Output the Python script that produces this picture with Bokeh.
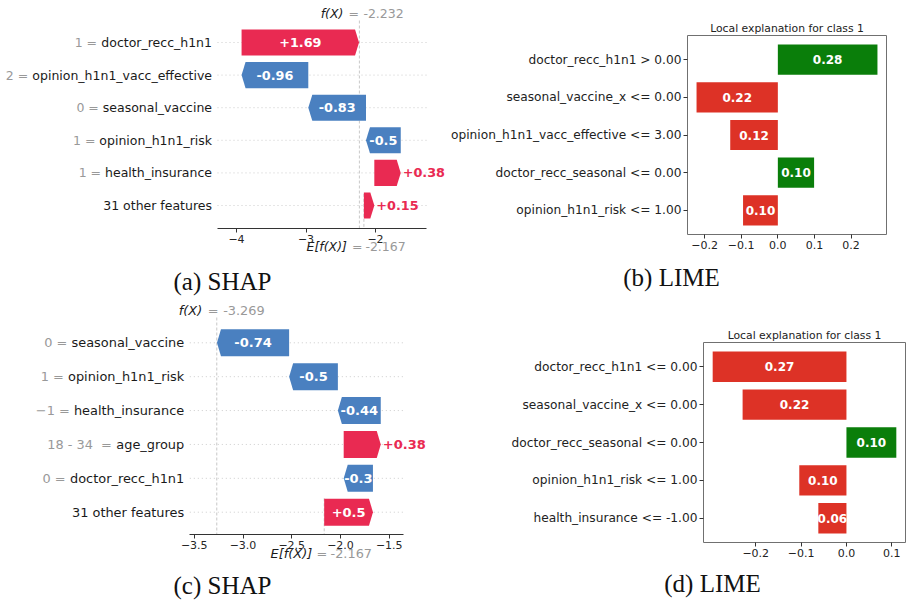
from bokeh.plotting import figure
from bokeh.models import Range1d, FixedTicker, Title
from bokeh.layouts import column, row
from bokeh.embed import file_html
from bokeh.resources import INLINE
from bokeh.core.properties import value

# ---------------- data ----------------
shap_a_features = ["doctor_recc_h1n1", "opinion_h1n1_vacc_effective", "seasonal_vaccine",
                   "opinion_h1n1_risk", "health_insurance", "31 other features"]
shap_a_feature_values = ["1", "2", "0", "1", "1", ""]
shap_a_contrib = [1.69, -0.96, -0.83, -0.5, 0.38, 0.15]
shap_a_labels = ["+1.69", "-0.96", "-0.83", "-0.5", "+0.38", "+0.15"]
shap_a_base = -2.167
shap_a_fx = -2.232
shap_a_ticks = [-4, -3, -2]
shap_a_tick_labels = ["\u22124", "\u22123", "\u22122"]

shap_c_features = ["seasonal_vaccine", "opinion_h1n1_risk", "health_insurance",
                   "age_group", "doctor_recc_h1n1", "31 other features"]
shap_c_feature_values = ["0", "1", "\u22121", "18 - 34\u00a0", "0", ""]
shap_c_contrib = [-0.74, -0.5, -0.44, 0.38, -0.3, 0.5]
shap_c_labels = ["-0.74", "-0.5", "-0.44", "+0.38", "-0.3", "+0.5"]
shap_c_base = -2.167
shap_c_fx = -3.269
shap_c_ticks = [-3.5, -3.0, -2.5, -2.0, -1.5]
shap_c_tick_labels = ["\u22123.5", "\u22123.0", "\u22122.5", "\u22122.0", "\u22121.5"]

lime_title = "Local explanation for class 1"
lime_b_features = ["doctor_recc_h1n1 > 0.00", "seasonal_vaccine_x <= 0.00",
                   "opinion_h1n1_vacc_effective <= 3.00", "doctor_recc_seasonal <= 0.00",
                   "opinion_h1n1_risk <= 1.00"]
lime_b_weights = [0.272, -0.222, -0.130, 0.099, -0.095]
lime_b_labels = ["0.28", "0.22", "0.12", "0.10", "0.10"]
lime_b_ticks = [-0.2, -0.1, 0.0, 0.1, 0.2]
lime_b_tick_labels = ["\u22120.2", "\u22120.1", "0.0", "0.1", "0.2"]

lime_d_features = ["doctor_recc_h1n1 <= 0.00", "seasonal_vaccine_x <= 0.00",
                   "doctor_recc_seasonal <= 0.00", "opinion_h1n1_risk <= 1.00",
                   "health_insurance <= -1.00"]
lime_d_weights = [-0.295, -0.229, 0.110, -0.104, -0.062]
lime_d_labels = ["0.27", "0.22", "0.10", "0.10", "0.06"]
lime_d_ticks = [-0.2, -0.1, 0.0, 0.1]
lime_d_tick_labels = ["\u22120.2", "\u22120.1", "0.0", "0.1"]

captions = ["(a) SHAP", "(b) LIME", "(c) SHAP", "(d) LIME"]

# ---------------- style ----------------
SANS = "DejaVu Sans"
SERIF = "Liberation Serif"
CAP_SIZE = 25
SHAP_RED = "#e92a52"
SHAP_BLUE = "#4a80c0"
LIME_GREEN = "#0a7e0a"
LIME_RED = "#dd3226"
GRAY = "#999999"
INK = "#1a1a1a"

_W = {' ': .318, '=': .838, '-': .361, '_': .5, '.': .318, '>': .838, '<': .838, '\u2212': .838,
      '\u00a0': .318, 'a': .613, 'b': .635, 'c': .55, 'd': .635, 'e': .615, 'f': .352, 'g': .635,
      'h': .634, 'i': .278, 'j': .278, 'k': .579, 'l': .278, 'm': .974, 'n': .634, 'o': .612,
      'p': .635, 'q': .635, 'r': .411, 's': .521, 't': .392, 'u': .634, 'v': .592, 'w': .818,
      'x': .592, 'y': .592, 'z': .525, '+': .838}
_WB = {'+': .838, '-': .415, '.': .38}
# Liberation Serif (Times metrics) advance widths
_WS = {'(': .333, ')': .333, ' ': .25, 'a': .444, 'b': .5, 'c': .444, 'd': .5, 'S': .556,
       'H': .722, 'A': .722, 'P': .556, 'L': .611, 'I': .333, 'M': .889, 'E': .611}


def text_w(s, size, bold=False):
    tot = 0.0
    for ch in s:
        if ch.isdigit():
            tot += .696 if bold else .636
        elif bold and ch in _WB:
            tot += _WB[ch]
        else:
            tot += _W.get(ch, .6)
    return tot * size


def serif_w(s, size):
    return sum(_WS.get(ch, .5) for ch in s) * size


def no_align(p):
    try:
        p.frame_align = False
    except AttributeError:
        pass


def shap_panel(features, fvals, contrib, labels, base, fx, ticks, tick_labels, cfg, caption):
    k, r, row0 = cfg["ppu"], cfg["ppr"], cfg["row0"]
    W, H = cfg["W"], cfg["H"]
    xv, xpx = cfg["xref"]

    def X(px):
        return xv + (px - xpx) / k

    def Y(py):
        return (py - row0) / r

    p = figure(width=W, height=H, x_range=Range1d(X(0), X(W)), y_range=Range1d(Y(H), Y(0)),
               output_backend="svg", toolbar_location=None, title=None, y_axis_location=None,
               min_border_left=0, min_border_top=0, min_border_right=0, min_border_bottom=0)
    no_align(p)
    p.outline_line_color = None
    p.grid.visible = False
    n = len(features)
    rows = list(range(n))
    ax_lo, ax_hi = X(cfg["ax_px"][0]), X(cfg["ax_px"][1])
    y_axis_line = Y(cfg["axis_py"])

    ax = p.xaxis[0]
    ax.fixed_location = y_axis_line
    ax.bounds = (ax_lo, ax_hi)
    ax.ticker = FixedTicker(ticks=ticks)
    ax.major_label_overrides = dict(zip(ticks, tick_labels))
    ax.minor_tick_line_color = None
    ax.major_tick_out = 4
    ax.major_tick_in = 0
    ax.axis_line_color = "#333333"
    ax.major_tick_line_color = "#333333"
    ax.major_label_text_font = SANS
    ax.major_label_text_font_size = cfg["fs_tick"]
    ax.major_label_text_color = "#262626"
    ax.major_label_standoff = 2

    # dotted row guides
    p.segment(x0=[ax_lo] * n, x1=[ax_hi] * n, y0=rows, y1=rows,
              line_color="#cccccc", line_width=1, line_dash="1 3")
    top = Y(cfg["axes_top"])
    p.segment(x0=[fx], x1=[fx], y0=[top], y1=[y_axis_line], line_color="#c8c8c8",
              line_width=1, line_dash="3 2")
    p.segment(x0=[base], x1=[base], y0=[y_axis_line - (y_axis_line - top) / n], y1=[y_axis_line],
              line_color="#c8c8c8", line_width=1, line_dash="3 2")

    # waterfall arrows
    starts = [0.0] * n
    ends = [0.0] * n
    cum = base
    for i in reversed(rows):
        starts[i] = cum
        cum += contrib[i]
        ends[i] = cum
    xs, ys, cols = [], [], []
    hh = 0.4
    for i in rows:
        s, e, v = starts[i], ends[i], contrib[i]
        hd = min(4.0 / k, abs(v))
        sg = 1 if v > 0 else -1
        xs.append([s, e - sg * hd, e, e - sg * hd, s])
        ys.append([i - hh, i - hh, i, i + hh, i + hh])
        cols.append(SHAP_RED if v > 0 else SHAP_BLUE)
    p.patches(xs, ys, fill_color=cols, line_color=None)

    fb = cfg["fs_bold"]
    inx, iny, intx = [], [], []
    opx, opy, opt = [], [], []
    onx, ony, ont = [], [], []
    for i in rows:
        tw = text_w(labels[i], float(fb[:-2]), bold=True)
        if tw < abs(contrib[i]) * k:
            inx.append((starts[i] + ends[i]) / 2)
            iny.append(i)
            intx.append(labels[i])
        elif contrib[i] > 0:
            opx.append(ends[i]); opy.append(i); opt.append(labels[i])
        else:
            onx.append(ends[i]); ony.append(i); ont.append(labels[i])
    common = dict(text_font=value(SANS), text_font_size=fb, text_font_style="bold",
                  text_baseline="middle")
    p.text(x=inx, y=iny, text=intx, text_color="white", text_align="center", **common)
    p.text(x=opx, y=opy, text=opt, text_color=SHAP_RED, text_align="left", x_offset=2, **common)
    p.text(x=onx, y=ony, text=ont, text_color=SHAP_BLUE, text_align="right", x_offset=-2, **common)

    # feature names (black) with value prefix (gray)
    fs = cfg["fs_name"]
    fsz = float(fs[:-2])
    anchor = X(cfg["name_px"])
    p.text(x=[anchor] * n, y=rows, text=features, text_align="right", text_baseline="middle",
           text_color=INK, text_font=value(SANS), text_font_size=fs)
    pre_y, pre_t, pre_o = [], [], []
    for i in rows:
        if fvals[i]:
            pre_y.append(i)
            pre_t.append(fvals[i] + " =")
            pre_o.append(-(text_w(features[i], fsz) + text_w(" ", fsz)))
    p.text(x=[anchor] * len(pre_y), y=pre_y, text=pre_t, x_offset=pre_o, text_align="right",
           text_baseline="middle", text_color=GRAY, text_font=value(SANS), text_font_size=fs)

    def split_label(xval, py, name, num, offs):
        yy = Y(py)
        o1, o2, o3 = offs
        p.text(x=[xval], y=[yy], text=[name], x_offset=o1, text_align="right",
               text_baseline="middle", text_color=INK, text_font=value(SANS),
               text_font_size=fs, text_font_style="italic")
        p.text(x=[xval], y=[yy], text=["="], x_offset=o2, text_align="left",
               text_baseline="middle", text_color=GRAY, text_font=value(SANS), text_font_size=fs)
        p.text(x=[xval], y=[yy], text=[num], x_offset=o3, text_align="left",
               text_baseline="middle", text_color=GRAY, text_font=value(SANS), text_font_size=fs)

    split_label(fx, cfg["fx_py"], "f(X)", f"{fx:.3f}", cfg["fx_off"])
    split_label(base, cfg["e_py"], "E[f(X)]", f"{base:.3f}", cfg["e_off"])

    cx, cy = cfg["cap"]
    p.text(x=[X(cx)], y=[Y(cy)], text=[caption], text_align="center", text_baseline="middle",
           text_color="#111111", text_font=value(SERIF), text_font_size=f"{CAP_SIZE}px")
    return p


def lime_panel(features, weights, labels, ticks, tick_labels, cfg, caption):
    n = len(features)
    lo, hi = min(min(weights), 0.0), max(max(weights), 0.0)
    pad = 0.05 * (hi - lo)
    ylo, yhi = -0.4, n - 1 + 0.4
    ypad = 0.05 * (yhi - ylo)
    W, H = cfg["W"], cfg["H"]
    L, R, T, B = cfg["borders"]
    p = figure(width=W, height=H, x_range=Range1d(lo - pad, hi + pad),
               y_range=Range1d(yhi + ypad, ylo - ypad), output_backend="svg",
               toolbar_location=None, min_border_left=L, min_border_right=R,
               min_border_top=T, min_border_bottom=B, title=lime_title)
    no_align(p)
    p.title.align = "center"
    p.title.text_font = SANS
    p.title.text_font_size = "10.8px"
    p.title.text_font_style = "normal"
    p.title.text_color = "#222222"
    p.title.standoff = 1
    p.outline_line_color = "#707070"
    p.outline_line_width = 1
    p.grid.visible = False

    idx = list(range(n))
    cols = [LIME_GREEN if w > 0 else LIME_RED for w in weights]
    p.hbar(y=idx, left=0, right=weights, height=0.8, fill_color=cols, line_color=None)
    p.text(x=[w / 2 for w in weights], y=idx, text=labels, text_color="white",
           text_font=value(SANS), text_font_size="12px", text_font_style="bold",
           text_align="center", text_baseline="middle")

    ya = p.yaxis[0]
    ya.ticker = FixedTicker(ticks=idx)
    ya.major_label_overrides = dict(zip(idx, features))
    xa = p.xaxis[0]
    xa.ticker = FixedTicker(ticks=ticks)
    xa.major_label_overrides = dict(zip(ticks, tick_labels))
    for a, fsz in ((ya, "12.2px"), (xa, "11px")):
        a.axis_line_color = None
        a.minor_tick_line_color = None
        a.major_tick_out = 4
        a.major_tick_in = 0
        a.major_tick_line_color = "#333333"
        a.major_label_text_font = SANS
        a.major_label_text_font_size = fsz
        a.major_label_text_color = "#222222"
        a.major_label_standoff = 2

    # caption centred at a chosen x (page px inside this figure)
    cap_left = cfg["cap_x"] - serif_w(caption, CAP_SIZE) / 2
    p.add_layout(Title(text=caption, align="left", offset=cap_left - L,
                       standoff=cfg["cap_standoff"], text_font=SERIF,
                       text_font_size=f"{CAP_SIZE}px", text_font_style="normal",
                       text_color="#111111"), "below")
    return p


cfg_a = dict(W=448, H=300, ppu=69.5, xref=(-2.0, 375.0), ppr=32.6, row0=42.0, axis_py=228.0,
             ax_px=(217.0, 426.0), name_px=211.5, axes_top=20.0, fx_py=13.0, e_py=246.0,
             fx_off=(-16, -11, 4), e_off=(-17, -12, 1.5), cap=(222.0, 281.0),
             fs_name="12.5px", fs_bold="12.8px", fs_tick="11px")
cfg_c = dict(W=448, H=304, ppu=97.5, xref=(-2.0, 340.0), ppr=33.88, row0=42.3, axis_py=234.0,
             ax_px=(189.3, 402.7), name_px=183.7, axes_top=17.0, fx_py=10.0, e_py=253.3,
             fx_off=(-14.6, -9, 6.4), e_off=(-12, -7.7, 6.3), cap=(222.0, 285.0),
             fs_name="12.9px", fs_bold="13px", fs_tick="11px")
cfg_b = dict(W=461, H=300, borders=(238, 23, 35, 65), cap_x=670 - 448, cap_standoff=20)
cfg_d = dict(W=461, H=304, borders=(255, 4, 42, 61), cap_x=712 - 448, cap_standoff=16)

pa = shap_panel(shap_a_features, shap_a_feature_values, shap_a_contrib, shap_a_labels,
                shap_a_base, shap_a_fx, shap_a_ticks, shap_a_tick_labels, cfg_a, captions[0])
pb = lime_panel(lime_b_features, lime_b_weights, lime_b_labels, lime_b_ticks,
                lime_b_tick_labels, cfg_b, captions[1])
pc = shap_panel(shap_c_features, shap_c_feature_values, shap_c_contrib, shap_c_labels,
                shap_c_base, shap_c_fx, shap_c_ticks, shap_c_tick_labels, cfg_c, captions[2])
pd = lime_panel(lime_d_features, lime_d_weights, lime_d_labels, lime_d_ticks,
                lime_d_tick_labels, cfg_d, captions[3])

layout = column(row(pa, pb), row(pc, pd))
open("out.html", "w").write(file_html(layout, INLINE))
